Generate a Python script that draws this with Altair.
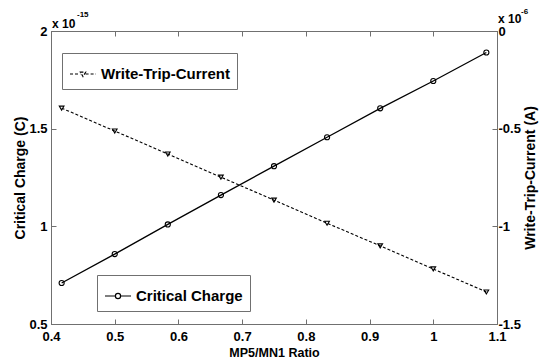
import altair as alt
import pandas as pd

# ---- data ----
ratio = [0.4167, 0.5, 0.5833, 0.6667, 0.75, 0.8333, 0.9167, 1.0, 1.0833]
critical_charge = [0.71, 0.858, 1.01, 1.16, 1.308, 1.456, 1.604, 1.744, 1.89]          # x 1e-15 C
write_trip_current = [-0.395, -0.512, -0.63, -0.748, -0.866, -0.984, -1.10, -1.218, -1.336]  # x 1e-6 A
x_ticks = [0.4, 0.5, 0.6, 0.7, 0.8, 0.9, 1.0, 1.1]
left_ticks = [0.5, 1, 1.5, 2]
right_ticks = [-1.5, -1, -0.5, 0]
series_names = ["Critical Charge", "Write-Trip-Current"]
exp_base = ["x 10", "x 10"]
exp_sup = ["-15", "-6"]

cc_df = pd.DataFrame({"ratio": ratio, "value": critical_charge, "series": series_names[0]})
wtc_df = pd.DataFrame({"ratio": ratio, "value": write_trip_current, "series": series_names[1]})

FONT = "Liberation Sans"
AX = "#707070"
INWARD = alt.ExprRef(expr="-5")

xscale = alt.Scale(domain=[0.4, 1.1], nice=False, zero=False)

common = dict(
    grid=False, labelFlush=False, labelOverlap=False,
    domainColor=AX, tickColor=AX, labelColor="black",
    labelFont=FONT, labelFontSize=13, labelFontWeight="bold",
    titleFont=FONT, titleColor="black",
)

bottom_axis = alt.Axis(orient="bottom", values=x_ticks, labelExpr="'' + datum.value",
                       tickSize=INWARD, labelPadding=11, title="MP5/MN1 Ratio",
                       titleFontSize=12.5, titleFontWeight="bold", titlePadding=3, **common)
top_axis = alt.Axis(orient="top", values=x_ticks, labels=False, tickSize=INWARD,
                    title=None, **common)
left_axis = alt.Axis(orient="left", values=left_ticks, labelExpr="'' + datum.value",
                     tickSize=INWARD, labelPadding=9, title="Critical Charge (C)",
                     titleFontSize=14, titleFontWeight="bold",
                     titleAngle=270, titleX=-31, titleY=146.5,
                     titleAlign="center", titleBaseline="middle", **common)
right_axis = alt.Axis(orient="right", values=right_ticks, labelExpr="'' + datum.value",
                      tickSize=INWARD, labelPadding=6, title="Write-Trip-Current (A)",
                      titleFontSize=14, titleFontWeight="bold",
                      titleAngle=270, titleX=33, titleY=146.5,
                      titleAlign="center", titleBaseline="middle", **common)

legend_common = dict(
    orient="none", title=None, fillColor="white", strokeColor=AX, padding=7,
    cornerRadius=0, labelFont=FONT, labelFontSize=15, labelFontWeight="bold",
    labelColor="black", labelOffset=4, labelLimit=400, symbolSize=676,
    symbolStrokeColor="black", symbolFillColor="transparent", symbolStrokeWidth=1.2,
)
cc_legend = alt.Legend(
    legendX=46, legendY=244,
    symbolType="M-1,0H-0.2M0.2,0H1M0.2,0A0.2,0.2,0,1,1,-0.2,0A0.2,0.2,0,1,1,0.2,0",
    **legend_common)
wtc_legend = alt.Legend(
    legendX=11, legendY=22, symbolDash=[3, 2],
    symbolType="M-1,0H-0.2M0.2,0H1M-0.2,-0.14L0.2,-0.14L0,0.2Z",
    **legend_common)

cc_base = alt.Chart(cc_df).encode(
    x=alt.X("ratio:Q", scale=xscale, axis=bottom_axis),
    y=alt.Y("value:Q", scale=alt.Scale(domain=[0.5, 2], nice=False, zero=False), axis=left_axis),
)
cc_layer = alt.layer(
    cc_base.mark_line(strokeWidth=1.3).encode(
        color=alt.Color("series:N", scale=alt.Scale(range=["black"]), legend=cc_legend)),
    cc_base.mark_point(shape="circle", size=26, filled=False, color="black", strokeWidth=1.1, opacity=1),
)

wtc_base = alt.Chart(wtc_df).encode(
    x=alt.X("ratio:Q", scale=xscale, axis=None),
    y=alt.Y("value:Q", scale=alt.Scale(domain=[-1.5, 0], nice=False, zero=False), axis=right_axis),
)
wtc_layer = alt.layer(
    wtc_base.mark_line(strokeWidth=1.1, strokeDash=[3, 2]).encode(
        color=alt.Color("series:N", scale=alt.Scale(range=["black"]), legend=wtc_legend)),
    wtc_base.mark_point(shape="triangle-down", size=22, filled=False, color="black", strokeWidth=1.1, opacity=1),
)

top_layer = alt.Chart(cc_df).mark_point(opacity=0).encode(
    x=alt.X("ratio:Q", scale=xscale, axis=top_axis))

def txt(s, x, y, size, align="left"):
    return alt.Chart(pd.DataFrame({"t": [s]})).mark_text(
        font=FONT, fontSize=size, fontWeight="bold", color="black", align=align,
        baseline="alphabetic").encode(text="t:N", x=alt.value(x), y=alt.value(y))

texts = [
    txt(exp_base[0], 1, -3, 12),
    txt(exp_sup[0], 26, -14, 8),
    txt(exp_base[1], 447, -8, 12),
    txt(exp_sup[1], 470, -17, 8),
]

chart = alt.layer(cc_layer, wtc_layer, top_layer, *texts).resolve_scale(
    y="independent", color="independent"
).resolve_axis(x="independent").properties(
    width=446, height=293,
    padding={"left": 51, "top": 31, "right": 44, "bottom": 36},
    autosize=alt.AutoSizeParams(type="none"),
    background="white",
).configure_view(stroke=AX, strokeWidth=1)

chart.save("out.html", embed_options={"renderer": "svg", "actions": False})
